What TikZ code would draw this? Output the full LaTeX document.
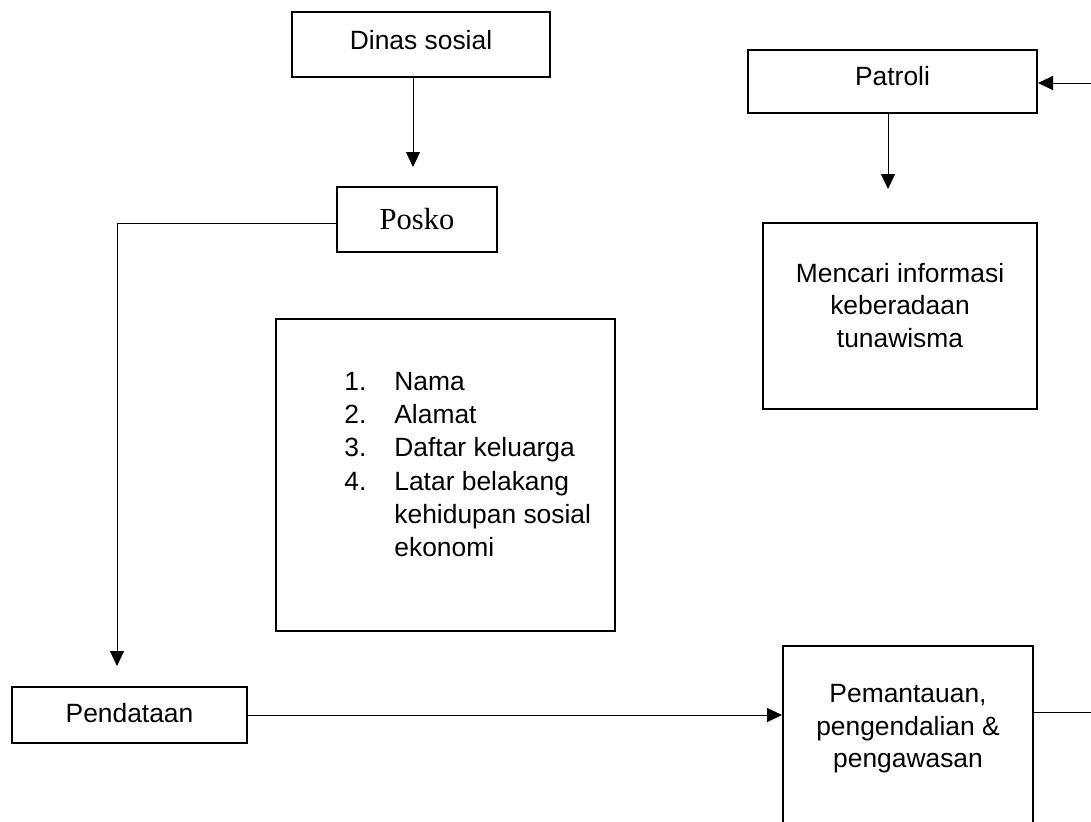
\documentclass[tikz,border=0pt]{standalone}
\usepackage{fontspec}
\setmainfont{Liberation Sans}
\newfontfamily\poskofont{Liberation Serif}
\usetikzlibrary{arrows.meta,calc}
\begin{document}
\begin{tikzpicture}[x=0.5pt,y=-0.5pt,
  box/.style={draw=black, line width=1pt, inner sep=0pt, font=\fontsize{13.2}{16.3}\selectfont},
  conn/.style={draw=black, line width=0.5pt},
  arr/.style={conn, -{Triangle[length=7.5pt,width=7pt]}},
  txt/.style={inner sep=0pt, align=center, font=\fontsize{13.2}{16.3}\selectfont}]
\useasboundingbox (0,0) rectangle (1091,821);
\clip (0,0) rectangle (1091,821);
% boxes
\node[box, minimum width=129pt, minimum height=32.5pt, text depth=4pt] (dinas) at (421,44) {Dinas sosial};
\node[box, minimum width=80pt, minimum height=32.5pt, font=\poskofont\fontsize{15.3}{18}\selectfont] (posko) at (417,219.5) {Posko};
\node[box, minimum width=169.5pt, minimum height=156pt] (list) at (445.5,475) {};
\node[txt, anchor=north west, align=left, font=\fontsize{13.2}{16.6}\selectfont] (listtxt) at (344,366.8) {\begin{tabular}{@{}p{25pt}@{}l@{}}1.&Nama\\2.&Alamat\\3.&Daftar keluarga\\4.&Latar belakang\\&kehidupan sosial\\&ekonomi\end{tabular}};
\node[box, minimum width=117.5pt, minimum height=28pt, text depth=2pt] (pend) at (129.5,715) {Pendataan};
\node[box, minimum width=125pt, minimum height=117pt] (pem) at (908,763) {};
\node[txt] (pemtxt) at (908,729) {Pemantauan,\\pengendalian \&\\pengawasan};
\node[box, minimum width=144.5pt, minimum height=31.5pt, text depth=6pt] (patroli) at (892.5,81.5) {Patroli};
\node[box, minimum width=137pt, minimum height=93pt] (mencari) at (899.5,316) {};
\node[txt] (mencaritxt) at (900,305.5) {Mencari informasi\\keberadaan\\tunawisma};
% connectors
\draw[arr] ($(dinas.south)+(-4pt,0)$) -- ($(dinas.south |- posko.north)+(-4pt,9.5pt)$);
\draw[arr] ($(posko.west)+(0,-1.75pt)$) -| ($(pend.north)+(-6.25pt,10pt)$);
\draw[arr] (pend.east) -- (pend.east -| pem.west);
\coordinate (rout) at (1091,712);
\draw[conn] (rout -| pem.east) -- (rout);
\coordinate (rin) at (1091,83);
\draw[arr] (rin) -- (rin -| patroli.east);
\draw[arr] ($(patroli.south)+(-2.25pt,0)$) -- ($(patroli.south |- mencari.north)+(-2.25pt,16.5pt)$);
\end{tikzpicture}
\end{document}
